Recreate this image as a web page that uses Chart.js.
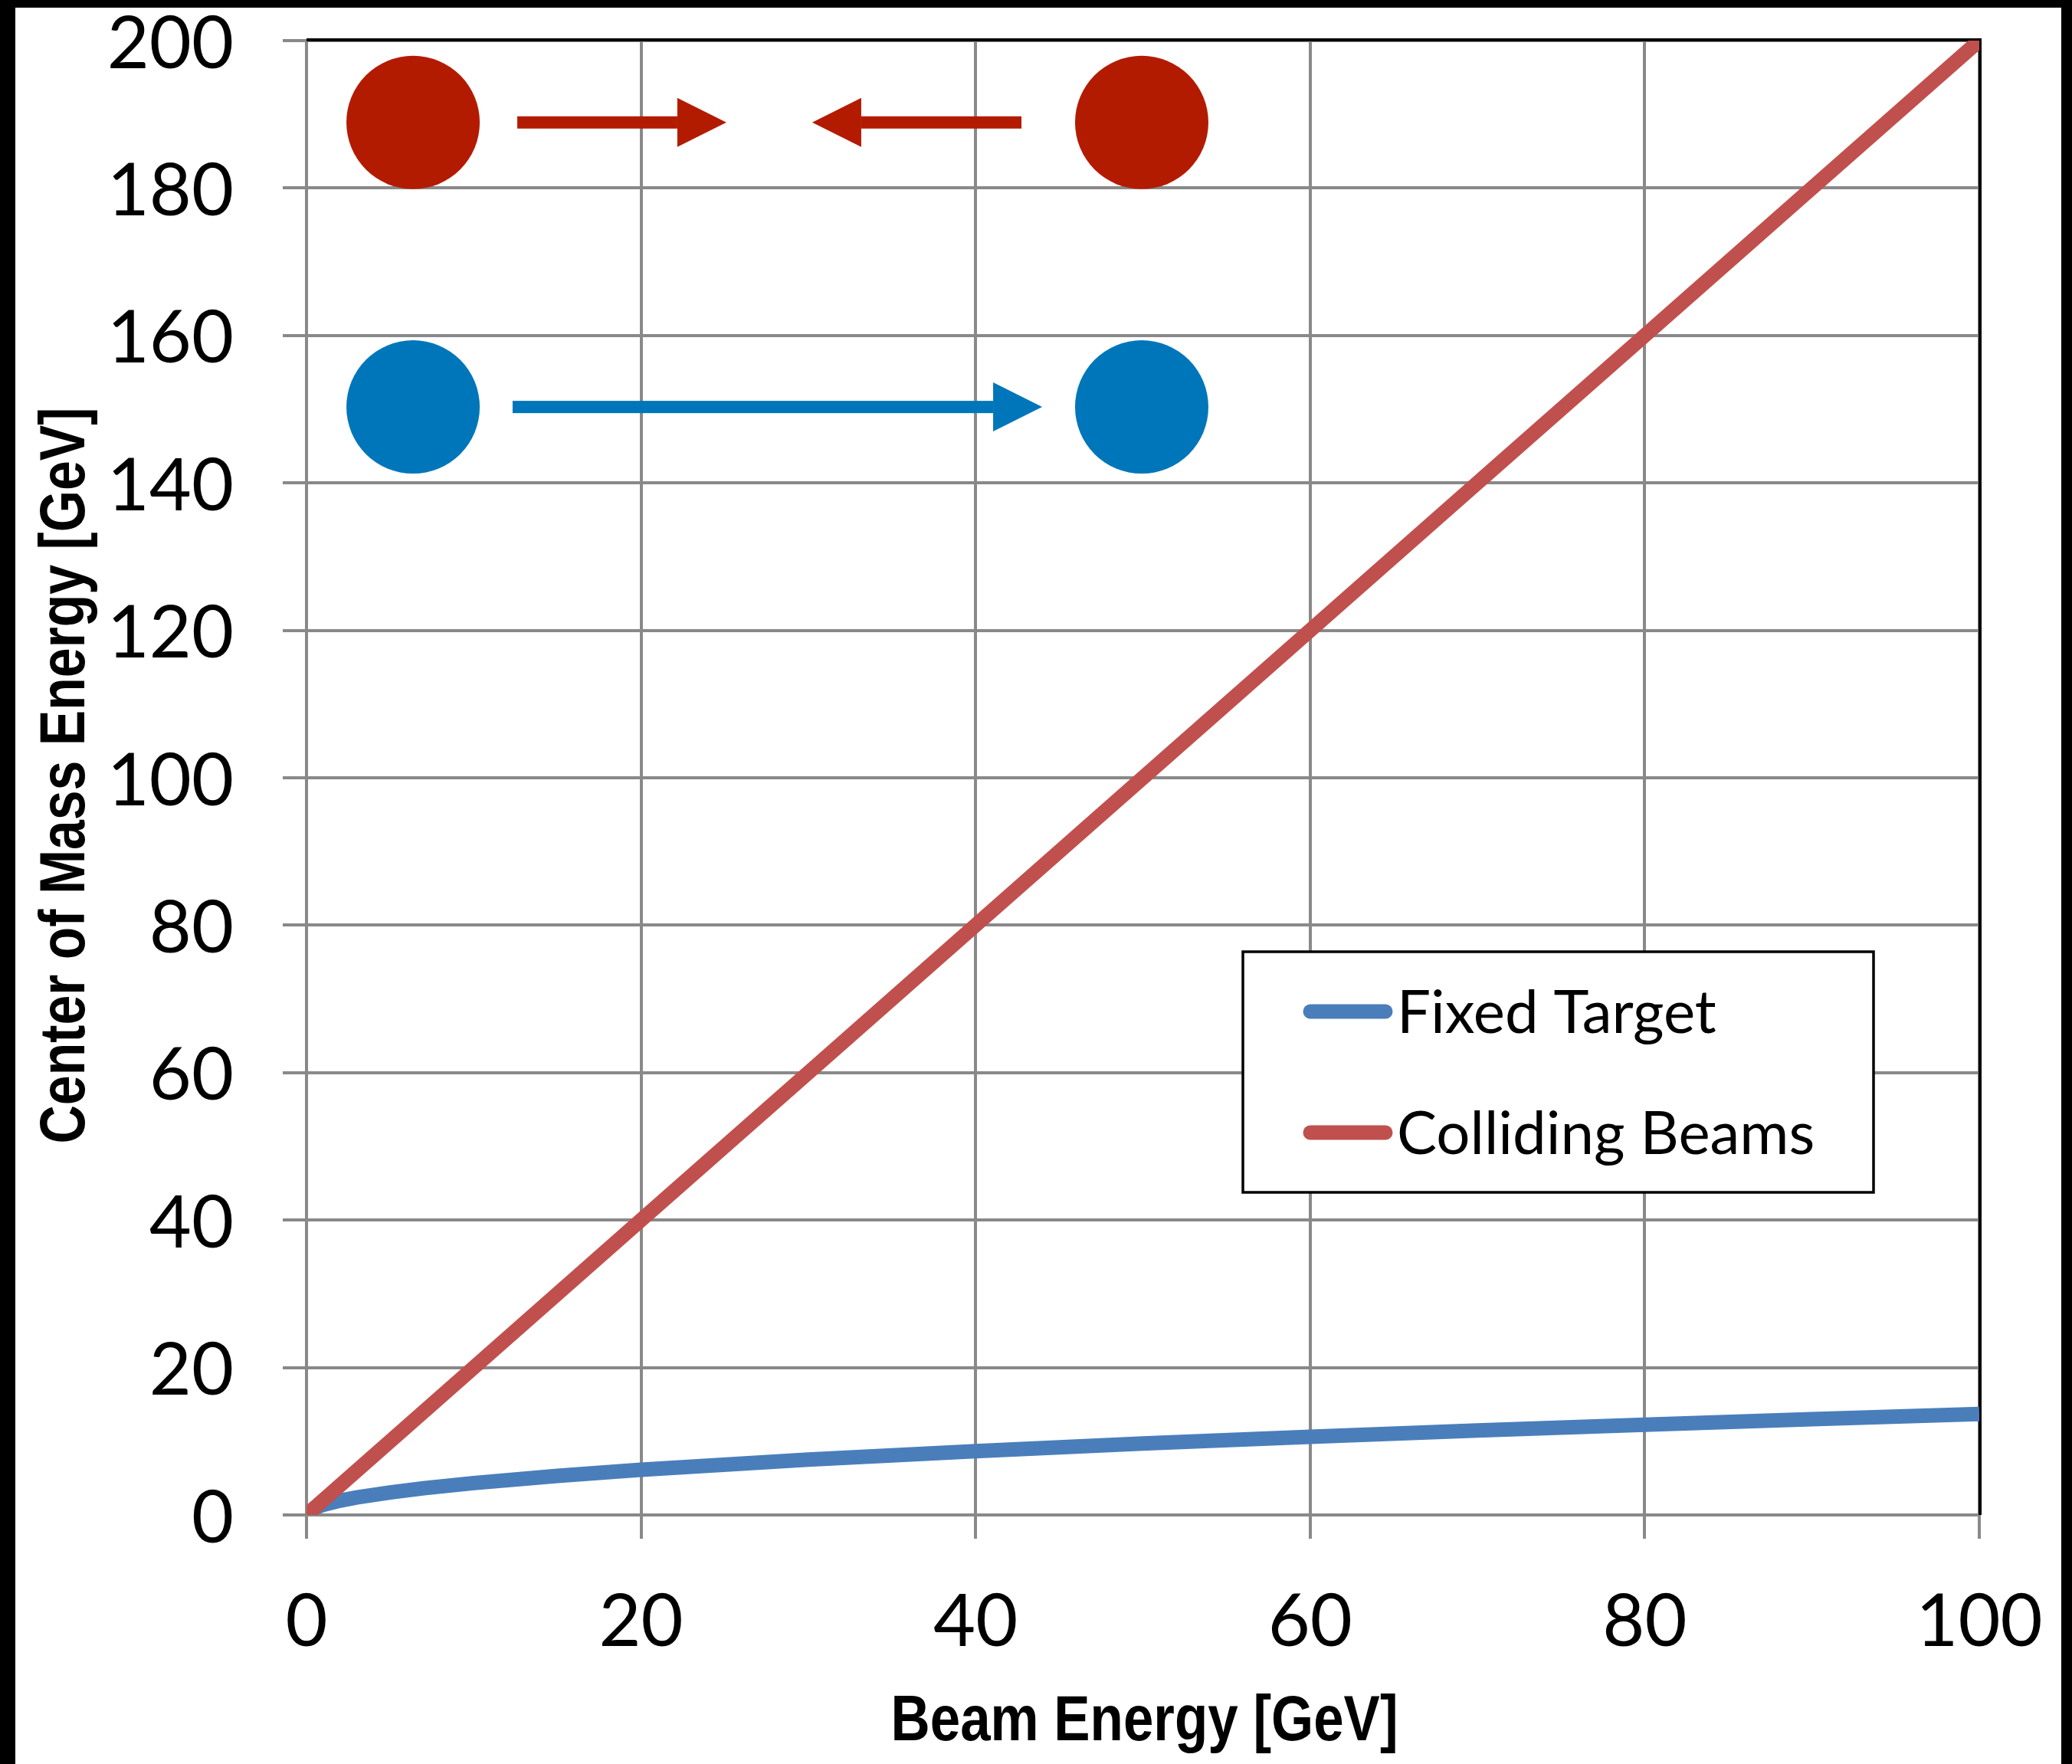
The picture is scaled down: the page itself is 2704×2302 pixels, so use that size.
<!DOCTYPE html>
<html lang="en">
<head>
  <meta charset="UTF-8" />
  <title>Center of Mass Energy vs Beam Energy</title>
  <script src="https://cdn.jsdelivr.net/npm/chart.js"></script>
  <style>
    html, body {
      margin: 0;
      padding: 0;
      background: #000;
      width: 2704px;
      height: 2302px;
      overflow: hidden;
    }
    .frame {
      position: absolute;
      left: 20px;
      top: 10px;
      width: 2670px;
      height: 2292px;
      background: #fff;
    }
    canvas { display: block; }
  </style>
</head>
<body>
  <div class="frame">
    <canvas id="cmChart" width="2670" height="2292"></canvas>
  </div>

  <script>
    // values
    const beamEnergy = [0, 0.5, 1, 2, 3, 5, 7, 10, 15, 20, 30, 40, 50, 60, 70, 80, 90, 100];
    const fixedTarget = [0, 0.97, 1.37, 1.94, 2.37, 3.06, 3.62, 4.33, 5.30, 6.13, 7.50, 8.66, 9.69, 10.61, 11.46, 12.25, 13.00, 13.70];
    const collidingEnergy = [0, 10, 20, 30, 40, 50, 60, 70, 80, 90, 100];
    const collidingBeams = [0, 20, 40, 60, 80, 100, 120, 140, 160, 180, 200];

    const xTicks = [0, 20, 40, 60, 80, 100];
    const yTicks = [0, 20, 40, 60, 80, 100, 120, 140, 160, 180, 200];

    const seriesNames = ["Fixed Target", "Colliding Beams"];
    const xTitle = "Beam Energy [GeV]";
    const yTitle = "Center of Mass Energy [GeV]";

    const gridGray = "#898989";

    // little sketch in the top-left corner (data units for positions)
    const sketch = {
      red: "#B31B00",
      blue: "#0076BA",
      radius: 87,
      leftX: 6.37,
      rightX: 49.93,
      redY: 188.9,
      blueY: 150.3
    };

    function drawArrow(ctx, xTail, xTip, y, color) {
      const dir = xTip > xTail ? 1 : -1;
      const headLen = 64, headHalf = 32, shaftHalf = 8;
      const base = xTip - dir * headLen;
      ctx.fillStyle = color;
      ctx.fillRect(Math.min(xTail, base), y - shaftHalf, Math.abs(base - xTail), shaftHalf * 2);
      ctx.beginPath();
      ctx.moveTo(base, y - headHalf);
      ctx.lineTo(xTip, y);
      ctx.lineTo(base, y + headHalf);
      ctx.closePath();
      ctx.fill();
    }

    const framePlugin = {
      id: "blackFrame",
      beforeDatasetsDraw(chart) {
        const { ctx, chartArea } = chart;
        ctx.save();
        ctx.strokeStyle = "#000";
        ctx.lineWidth = 4;
        ctx.beginPath();
        ctx.moveTo(chartArea.left, chartArea.top - 1);
        ctx.lineTo(chartArea.right + 1, chartArea.top - 1);
        ctx.lineTo(chartArea.right + 1, chartArea.bottom);
        ctx.stroke();
        ctx.restore();
      }
    };

    const sketchPlugin = {
      id: "sketch",
      afterDraw(chart) {
        const { ctx } = chart;
        const xs = chart.scales.x, ys = chart.scales.y;
        const px = v => xs.getPixelForValue(v);
        const py = v => ys.getPixelForValue(v);
        ctx.save();
        [[sketch.redY, sketch.red], [sketch.blueY, sketch.blue]].forEach(([yv, col]) => {
          ctx.fillStyle = col;
          [sketch.leftX, sketch.rightX].forEach(xv => {
            ctx.beginPath();
            ctx.arc(px(xv), py(yv), sketch.radius, 0, Math.PI * 2);
            ctx.fill();
          });
        });
        drawArrow(ctx, px(12.6), px(25.1), py(sketch.redY), sketch.red);
        drawArrow(ctx, px(42.74), px(30.23), py(sketch.redY), sketch.red);
        drawArrow(ctx, px(12.32), px(43.98), py(sketch.blueY), sketch.blue);
        ctx.restore();
      }
    };

    const boxLegend = {
      id: "boxLegend",
      afterDraw(chart) {
        const { ctx, chartArea } = chart;
        const left = chartArea.right - 961;
        const top = chartArea.bottom - 735;
        ctx.save();
        ctx.fillStyle = "#fff";
        ctx.fillRect(left, top, 823, 314);
        ctx.strokeStyle = "#000";
        ctx.lineWidth = 3.5;
        ctx.strokeRect(left, top, 823, 314);
        const legendOrder = chart.data.datasets.slice().sort((a, b) => b.order - a.order);
        legendOrder.forEach((ds, i) => {
          const yLine = top + 78 + i * 158;
          ctx.strokeStyle = ds.borderColor;
          ctx.lineWidth = 19;
          ctx.lineCap = "round";
          ctx.beginPath();
          ctx.moveTo(left + 88, yLine);
          ctx.lineTo(left + 186, yLine);
          ctx.stroke();
          ctx.fillStyle = "#000";
          ctx.font = "78px Lato";
          ctx.textBaseline = "middle";
          ctx.textAlign = "left";
          ctx.fillText(ds.label, left + 201, yLine + 3);
        });
        ctx.restore();
      }
    };

    // bold, squeezed axis titles
    function squeezedText(ctx, text, width) {
      const natural = ctx.measureText(text).width;
      ctx.scale(width / natural, 1);
      ctx.fillText(text, 0, 0);
    }

    const axisTitles = {
      id: "axisTitles",
      afterDraw(chart) {
        const { ctx, chartArea } = chart;
        ctx.save();
        ctx.fillStyle = "#000";
        ctx.font = "bold 84px 'Liberation Sans', Arial, sans-serif";
        ctx.textAlign = "center";
        ctx.textBaseline = "alphabetic";

        ctx.save();
        ctx.translate((chartArea.left + chartArea.right) / 2 + 2, 2261);
        squeezedText(ctx, xTitle, 662);
        ctx.restore();

        ctx.save();
        ctx.translate(90, (chartArea.top + chartArea.bottom) / 2 - 3);
        ctx.rotate(-Math.PI / 2);
        squeezedText(ctx, yTitle, 961);
        ctx.restore();

        ctx.restore();
      }
    };

    const ctx = document.getElementById("cmChart").getContext("2d");
    const cmChart = new Chart(ctx, {
      type: "line",
      data: {
        datasets: [{
          label: seriesNames[0],
          data: beamEnergy.map((e, i) => ({ x: e, y: fixedTarget[i] })),
          borderColor: "#4A7EBB",
          borderWidth: 19,
          pointRadius: 0,
          tension: 0,
          order: 2
        }, {
          label: seriesNames[1],
          data: collidingEnergy.map((e, i) => ({ x: e, y: collidingBeams[i] })),
          borderColor: "#C0504D",
          borderWidth: 19,
          pointRadius: 0,
          tension: 0,
          order: 1
        }]
      },
      options: {
        responsive: false,
        devicePixelRatio: 1,
        animation: false,
        layout: { padding: { top: 43, right: 107, bottom: 0, left: 0 } },
        plugins: {
          legend: { display: false },
          tooltip: { enabled: false }
        },
        scales: {
          x: {
            type: "linear",
            min: 0,
            max: 100,
            afterBuildTicks: s => { s.ticks = xTicks.map(v => ({ value: v })); },
            afterFit: s => { s.height = 325; s.paddingLeft = 0; s.paddingRight = 0; },
            grid: { color: gridGray, lineWidth: 4, tickLength: 31, tickColor: gridGray },
            border: { color: gridGray, width: 4 },
            ticks: {
              color: "#000",
              padding: 52,
              maxRotation: 0,
              font: { family: "Lato", size: 95 }
            }
          },
          y: {
            min: 0,
            max: 200,
            afterBuildTicks: s => { s.ticks = yTicks.map(v => ({ value: v })); },
            afterFit: s => { s.width = 380; s.paddingTop = 0; s.paddingBottom = 0; },
            grid: { color: gridGray, lineWidth: 4, tickLength: 31, tickColor: gridGray },
            border: { color: gridGray, width: 4 },
            ticks: {
              color: "#000",
              padding: 64,
              labelOffset: 5,
              font: { family: "Lato", size: 95 }
            }
          }
        }
      },
      plugins: [framePlugin, sketchPlugin, boxLegend, axisTitles]
    });
  </script>
</body>
</html>
